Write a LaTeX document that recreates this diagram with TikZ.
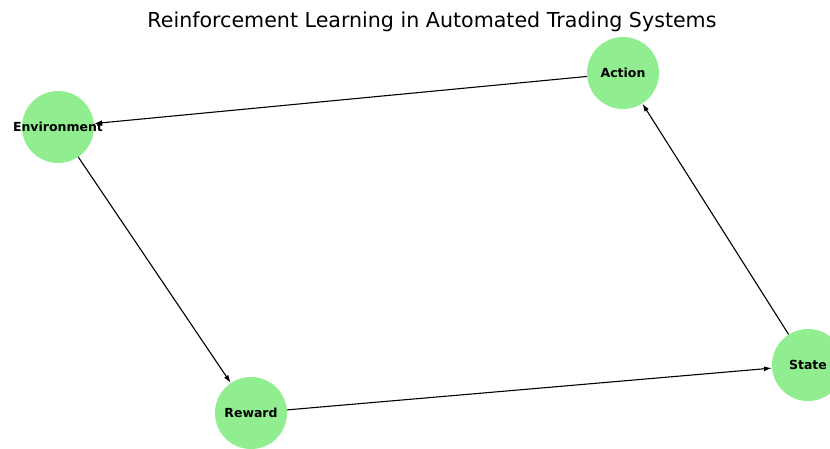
\documentclass[tikz,border=0pt]{standalone}
\usepackage{fontspec}
\setmainfont{DejaVu Sans}
\usepackage{tikz}
\usetikzlibrary{arrows.meta, positioning}
\definecolor{lgreen}{HTML}{90EE90}

\begin{document}
\begin{tikzpicture}[x=1pt, y=-1pt,
    state/.style={circle, fill=lgreen, minimum size=72pt, inner sep=0pt,
        label={[font=\fontsize{12.5}{14}\selectfont\bfseries]center:#1}},
    link/.style={-{Latex[length=8pt, width=5pt]}, line width=1.1pt, black}]
    \useasboundingbox (0,0) rectangle (830,448);
    \clip (0,0) rectangle (830,448);
    \node (title) at (432, 22) {\fontsize{20.6}{24}\selectfont Reinforcement Learning in Automated Trading Systems};
    \node[state=Environment] (env) at (58, 127) {};
    \node[state=Action] (action) at (623, 73) {};
    \node[state=Reward] (reward) at (251, 413) {};
    \node[state=State] (st) at (808, 365) {};
    \draw[link] (action) -- (env);
    \draw[link] (env) -- (reward);
    \draw[link] (reward) -- (st);
    \draw[link] (st) -- (action);
\end{tikzpicture}
\end{document}
